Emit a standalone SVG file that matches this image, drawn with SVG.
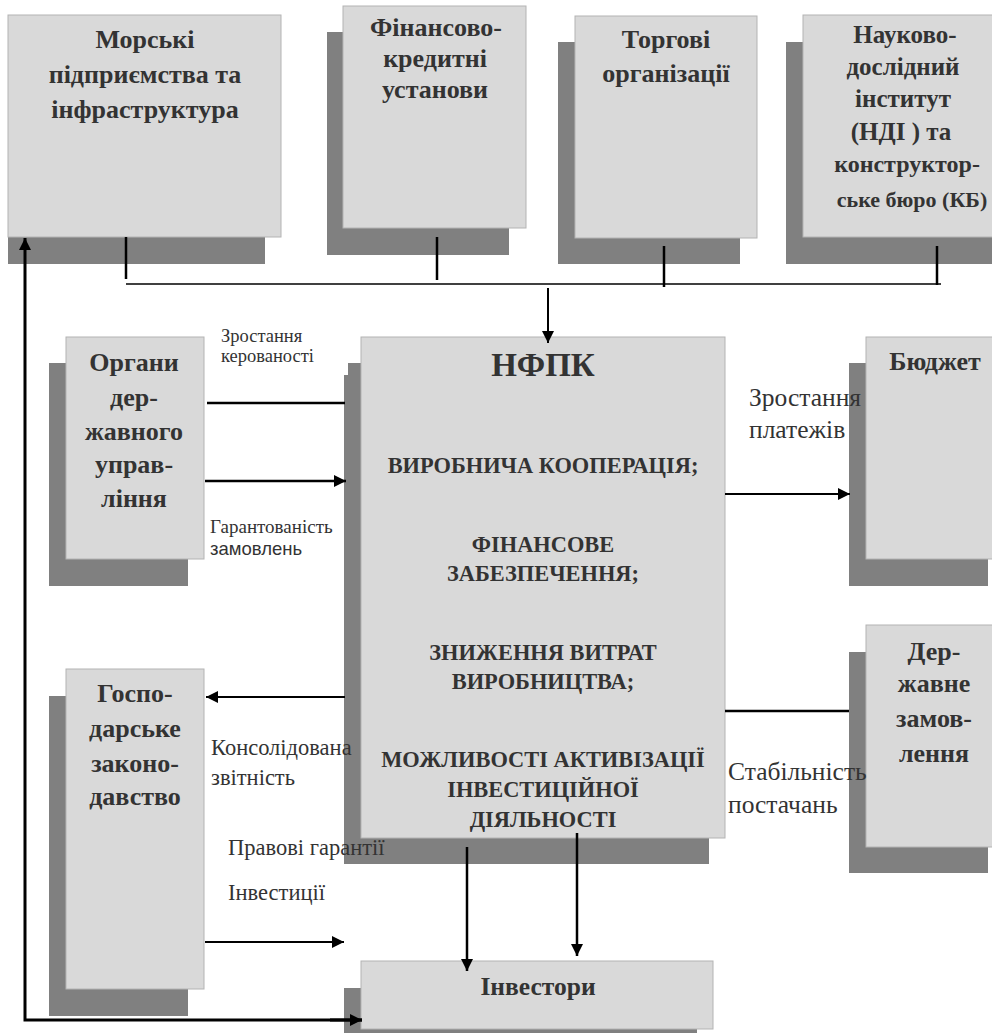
<svg xmlns="http://www.w3.org/2000/svg" width="992" height="1033" viewBox="0 0 992 1033">
<style>
.sh{fill:#808080}
.bx{fill:#d9d9d9;stroke:#b3b3b3;stroke-width:1}
.t{font-family:'Liberation Serif','DejaVu Serif',serif;font-weight:bold;fill:#333;text-anchor:middle}
.t26{font-size:26px}
.t25{font-size:25px}
.t22{font-size:22.4px}
.lb{font-family:'Liberation Serif','DejaVu Serif',serif;fill:#333}
.ls{font-family:'Liberation Sans',Arial,sans-serif;fill:#333}
.ln{stroke:#000;fill:none}
</style>
<defs>
<marker id="ah" viewBox="0 0 10 10" refX="10" refY="5" markerWidth="12" markerHeight="12" markerUnits="userSpaceOnUse" orient="auto">
<path d="M0,0 L10,5 L0,10 z" fill="#000"/>
</marker>
</defs>
<rect width="992" height="1033" fill="#fff"/>

<g id="n-morski">
<rect class="sh" x="8" y="41" width="257" height="223"/>
<rect class="bx" x="8" y="15" width="273" height="222"/>
<text class="t t26" x="145" y="48">Морські</text>
<text class="t t26" x="145" y="83">підприємства та</text>
<text class="t t26" x="145" y="118">інфраструктура</text>
</g>

<g id="n-finans">
<rect class="sh" x="327" y="32" width="182" height="223"/>
<rect class="bx" x="343" y="6" width="183" height="222"/>
<text class="t t26" x="436" y="36">Фінансово-</text>
<text class="t t26" x="435" y="67">кредитні</text>
<text class="t t26" x="435" y="98">установи</text>
</g>

<g id="n-torg">
<rect class="sh" x="558" y="42" width="182" height="222"/>
<rect class="bx" x="575" y="16" width="182" height="222"/>
<text class="t t26" x="666" y="48">Торгові</text>
<text class="t t26" x="666" y="82">організації</text>
</g>

<g id="n-ndi">
<rect class="sh" x="786" y="42" width="210" height="222"/>
<rect class="bx" x="803" y="15" width="200" height="222"/>
<text class="t t25" x="905" y="43">Науково-</text>
<text class="t t25" x="903" y="75">дослідний</text>
<text class="t t25" x="903" y="107">інститут</text>
<text class="t t25" x="901" y="140">(НДІ ) та</text>
<text class="t" style="font-size:24px" x="907" y="172">конструктор-</text>
<text class="t" style="font-size:22px" x="912" y="207">ське бюро (КБ)</text>
</g>

<g id="n-organy">
<rect class="sh" x="49" y="363" width="139" height="223"/>
<rect class="bx" x="66" y="337" width="138" height="222"/>
<text class="t t26" x="134" y="371">Органи</text>
<text class="t t26" x="134" y="406">дер-</text>
<text class="t t26" x="134" y="440">жавного</text>
<text class="t t26" x="134" y="473">управ-</text>
<text class="t t26" x="134" y="507">ління</text>
</g>

<g id="n-nfpk">
<rect class="sh" x="344" y="375" width="20" height="489"/>
<rect class="sh" x="348" y="363" width="361" height="501"/>
<rect class="bx" x="361" y="337" width="364" height="501"/>
<text class="t" style="font-size:33px" x="543" y="376">НФПК</text>
<text class="t t22" x="543" y="473">ВИРОБНИЧА КООПЕРАЦІЯ;</text>
<text class="t t22" x="543" y="552">ФІНАНСОВЕ</text>
<text class="t t22" x="543" y="581">ЗАБЕЗПЕЧЕННЯ;</text>
<text class="t t22" x="543" y="660">ЗНИЖЕННЯ ВИТРАТ</text>
<text class="t t22" x="543" y="689">ВИРОБНИЦТВА;</text>
<text class="t t22" x="543" y="767">МОЖЛИВОСТІ АКТИВІЗАЦІЇ</text>
<text class="t t22" x="543" y="797">ІНВЕСТИЦІЙНОЇ</text>
<text class="t t22" x="543" y="827">ДІЯЛЬНОСТІ</text>
</g>

<g id="n-budget">
<rect class="sh" x="849" y="363" width="139" height="223"/>
<rect class="bx" x="866" y="337" width="138" height="222"/>
<text class="t t26" x="935" y="370">Бюджет</text>
</g>

<g id="n-derzh">
<rect class="sh" x="849" y="652" width="139" height="221"/>
<rect class="bx" x="866" y="625" width="138" height="222"/>
<text class="t t26" x="934" y="660">Дер-</text>
<text class="t t26" x="934" y="692">жавне</text>
<text class="t t26" x="934" y="727">замов-</text>
<text class="t t26" x="934" y="762">лення</text>
</g>

<g id="n-gosp">
<rect class="sh" x="49" y="696" width="139" height="320"/>
<rect class="bx" x="66" y="669" width="138" height="320"/>
<text class="t t26" x="135" y="702">Госпо-</text>
<text class="t t26" x="135" y="737">дарське</text>
<text class="t t26" x="135" y="772">законо-</text>
<text class="t t26" x="135" y="805">давство</text>
</g>

<g id="n-invest">
<rect class="sh" x="344" y="988" width="353" height="50"/>
<rect class="bx" x="361" y="961" width="352" height="68"/>
<text class="t" style="font-size:25.5px" x="538" y="995">Інвестори</text>
</g>

<g id="connectors">
<line class="ln" x1="126" y1="237" x2="126" y2="279" stroke-width="2.5"/>
<line class="ln" x1="437" y1="237" x2="437" y2="280" stroke-width="2.5"/>
<line class="ln" x1="664" y1="246" x2="664" y2="287" stroke-width="2.5"/>
<line class="ln" x1="937" y1="246" x2="937" y2="285" stroke-width="2.5"/>
<line class="ln" x1="126" y1="284" x2="941" y2="284" stroke-width="1.5"/>
<line class="ln" x1="548" y1="288" x2="548" y2="343" stroke-width="2" marker-end="url(#ah)"/>
<line class="ln" x1="207" y1="403" x2="345" y2="403" stroke-width="2.5"/>
<line class="ln" x1="205" y1="481" x2="346" y2="481" stroke-width="2.5" marker-end="url(#ah)"/>
<line class="ln" x1="725" y1="494" x2="850" y2="494" stroke-width="2" marker-end="url(#ah)"/>
<line class="ln" x1="725" y1="711" x2="849" y2="711" stroke-width="2.5"/>
<line class="ln" x1="345" y1="697" x2="206" y2="697" stroke-width="2" marker-end="url(#ah)"/>
<line class="ln" x1="205" y1="942" x2="344" y2="942" stroke-width="2" marker-end="url(#ah)"/>
<line class="ln" x1="467" y1="847" x2="467" y2="971" stroke-width="2.5" marker-end="url(#ah)"/>
<line class="ln" x1="577" y1="833" x2="577" y2="956" stroke-width="2.5" marker-end="url(#ah)"/>
<polyline class="ln" points="362,1020 25,1020 25,238" stroke-width="3" marker-end="url(#ah)"/>
<line class="ln" x1="330" y1="1020" x2="362" y2="1020" stroke-width="3" marker-end="url(#ah)"/>
</g>

<g id="labels">
<text class="lb" style="font-size:18.5px" x="221" y="342">Зростання</text>
<text class="lb" style="font-size:18.5px" x="221" y="362">керованості</text>
<text class="lb" style="font-size:19px" x="210" y="533">Гарантованість</text>
<text class="ls" style="font-size:18.5px" x="210" y="555">замовлень</text>
<text class="lb" style="font-size:25.5px" x="749" y="406">Зростання</text>
<text class="lb" style="font-size:25.5px" x="749" y="438">платежів</text>
<text class="lb" style="font-size:22.5px" x="211" y="755">Консолідована</text>
<text class="lb" style="font-size:22.5px" x="211" y="785">звітність</text>
<text class="lb" style="font-size:22.5px" x="228" y="855">Правові гарантії</text>
<text class="lb" style="font-size:22.5px" x="228" y="900">Інвестиції</text>
<text class="lb" style="font-size:25.5px" x="728" y="780">Стабільність</text>
<text class="lb" style="font-size:25.5px" x="728" y="813">постачань</text>
</g>
</svg>
